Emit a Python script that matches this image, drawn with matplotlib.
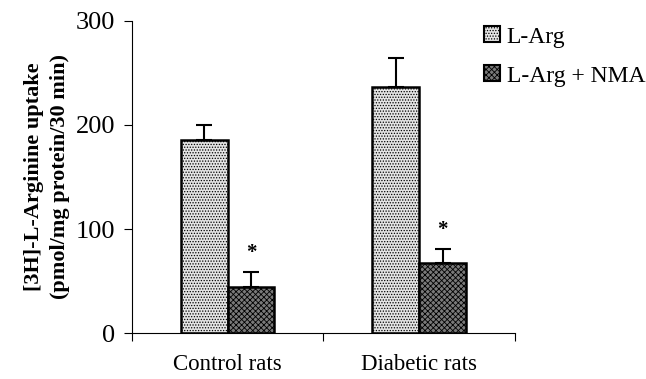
import numpy as np
import matplotlib
matplotlib.use("Agg")
import matplotlib.pyplot as plt
from matplotlib.patches import Patch

groups = ["Control rats", "Diabetic rats"]
series = ["L-Arg", "L-Arg + NMA"]
larg = [186, 236]
larg_err = [14, 28]
nma = [44, 67]
nma_err = [15, 14]

plt.rcParams['font.family'] = ['Liberation Serif', 'DejaVu Serif']
plt.rcParams['hatch.linewidth'] = 0.6
plt.rcParams['hatch.color'] = "#333333"

fig = plt.figure(figsize=(6.46, 3.79), dpi=100)
ax = fig.add_axes([0.204, 0.121, 0.593, 0.824])

x = np.arange(len(groups)) + 0.5
w = 0.245
light, dark = "#e4e4e4", "#7a7a7a"
ax.bar(x - w / 2, larg, w, color=light, edgecolor="black", lw=1.8,
       hatch="......", zorder=2)
ax.bar(x + w / 2, nma, w, color=dark, edgecolor="black", lw=1.8,
       hatch="xxxxxx", zorder=2)

ax.errorbar(x - w / 2, larg, yerr=[np.zeros(2), larg_err], fmt="none",
            ecolor="black", elinewidth=1.5, capsize=6, capthick=1.5, zorder=3)
ax.errorbar(x + w / 2, nma, yerr=[np.zeros(2), nma_err], fmt="none",
            ecolor="black", elinewidth=1.5, capsize=6, capthick=1.5, zorder=3)
for xi, v, e in zip(x, nma, nma_err):
    ax.text(xi + w / 2, v + e + 8, "*", ha="center", va="bottom",
            fontsize=15, fontweight="bold")

ax.set_xlim(0, 2)
ax.set_ylim(0, 300)
ax.set_yticks([0, 100, 200, 300])
ax.tick_params(axis="y", labelsize=19, length=6, width=0.8, pad=6)
ax.set_xticks([0, 1, 2])
ax.set_xticklabels([])
ax.set_xticks(x, minor=True)
ax.set_xticklabels(groups, minor=True, fontsize=16.5)
ax.tick_params(axis="x", which="major", length=6, width=0.8)
ax.tick_params(axis="x", which="minor", length=0, pad=15)
for s in ("top", "right"):
    ax.spines[s].set_visible(False)
for s in ("left", "bottom"):
    ax.spines[s].set_linewidth(0.8)
ax.set_ylabel("[3H]-L-Arginine uptake\n(pmol/mg protein/30 min)",
              fontsize=16, fontweight="bold", labelpad=4, linespacing=1.4)

handles = [Patch(facecolor=light, edgecolor="black", hatch="......", lw=1.5),
           Patch(facecolor=dark, edgecolor="black", hatch="xxxxxx", lw=1.5)]
fig.legend(handles, series, loc="upper left", bbox_to_anchor=(0.735, 0.955),
           frameon=False, fontsize=17, handlelength=0.65, handleheight=0.65,
           handletextpad=0.3, labelspacing=0.75, borderaxespad=0)

fig.savefig("out.png", dpi=100)
